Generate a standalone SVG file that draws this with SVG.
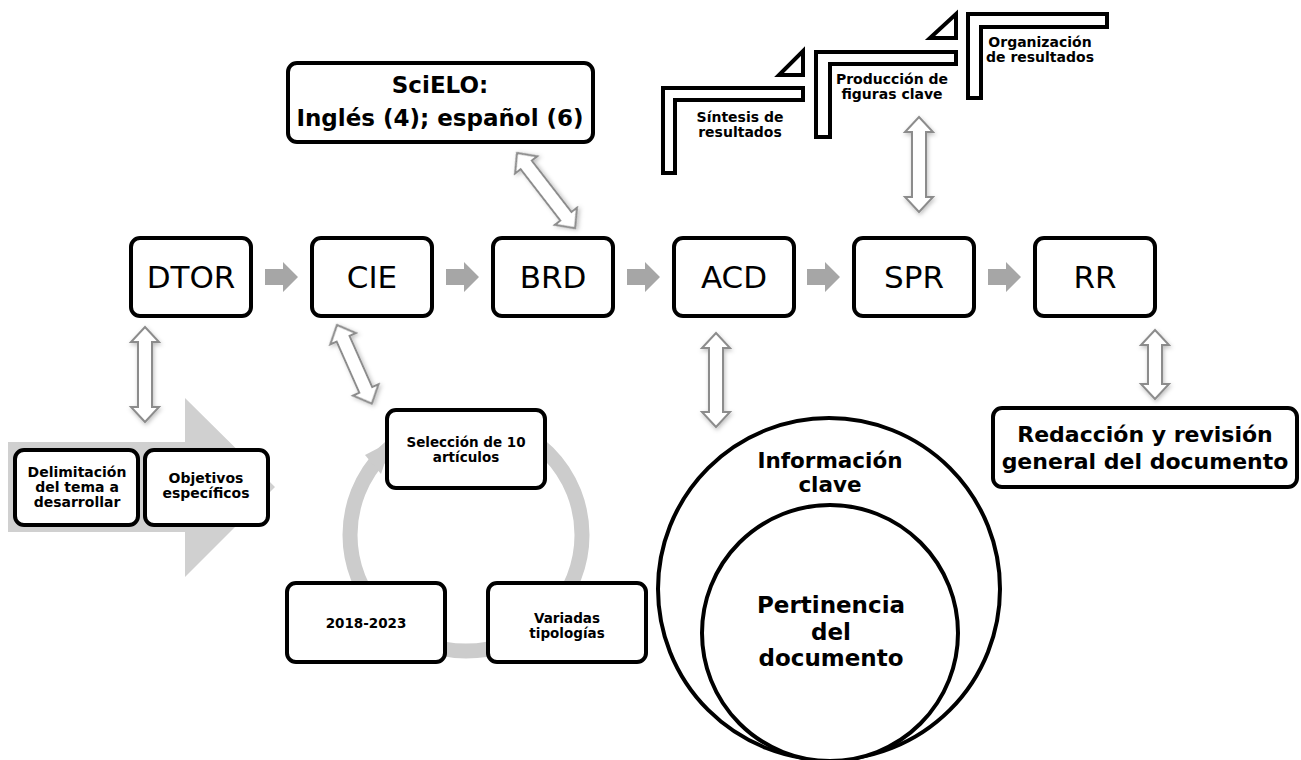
<svg xmlns="http://www.w3.org/2000/svg" width="1301" height="760" viewBox="0 0 1301 760">
<defs>
<style>
.box{fill:#fff;stroke:#000;stroke-width:4}
.main{font-family:"DejaVu Sans",Verdana,sans-serif;font-size:31px;fill:#000;text-anchor:middle}
.b{font-family:"DejaVu Sans",Verdana,sans-serif;font-weight:bold;fill:#000;text-anchor:middle}
.chev{fill:#a6a6a6}
.dbl{fill:#fff;stroke:#8c8c8c;stroke-width:2;stroke-linejoin:miter;filter:url(#sh)}
.ring{fill:none;stroke:#cccccc;stroke-width:15}
</style>
<filter id="sh" x="-50%" y="-50%" width="200%" height="200%">
<feDropShadow dx="1" dy="2" stdDeviation="2" flood-color="#000" flood-opacity="0.25"/>
</filter>
</defs>
<rect width="1301" height="760" fill="#fff"/>

<!-- big left gray arrow -->
<g id="bg-arrow">
<polygon points="8,442 185,442 185,398 275,487 185,577 185,532 8,532" fill="#d0d0d0"/>
</g>

<!-- cycle ring -->
<g id="cycle-ring">
<circle cx="466" cy="535" r="116" class="ring"/>
<polygon points="365,455 392,441 381,474" fill="#cccccc"/>
</g>

<g id="connectors">
<polygon class="chev" points="265,269 283,269 283,262 298,277 283,292 283,285 265,285"/>
<polygon class="chev" points="446,269 464,269 464,262 479,277 464,292 464,285 446,285"/>
<polygon class="chev" points="627,269 645,269 645,262 660,277 645,292 645,285 627,285"/>
<polygon class="chev" points="807,269 825,269 825,262 840,277 825,292 825,285 807,285"/>
<polygon class="chev" points="988,269 1006,269 1006,262 1021,277 1006,292 1006,285 988,285"/>
<!-- double arrows -->
<path class="dbl" transform="translate(145,327)" d="M0,0 L14,15 L7,15 L7,80 L14,80 L0,95 L-14,80 L-7,80 L-7,15 L-14,15 Z"/>
<path class="dbl" transform="translate(337,325) rotate(-23.9)" d="M0,0 L14,15 L7,15 L7,71 L14,71 L0,86 L-14,71 L-7,71 L-7,15 L-14,15 Z"/>
<path class="dbl" transform="translate(517,153) rotate(-37.7)" d="M0,0 L14,15 L7,15 L7,80 L14,80 L0,95 L-14,80 L-7,80 L-7,15 L-14,15 Z"/>
<path class="dbl" transform="translate(716,333)" d="M0,0 L14,15 L7,15 L7,79 L14,79 L0,94 L-14,79 L-7,79 L-7,15 L-14,15 Z"/>
<path class="dbl" transform="translate(919,117)" d="M0,0 L14,15 L7,15 L7,80 L14,80 L0,95 L-14,80 L-7,80 L-7,15 L-14,15 Z"/>
<path class="dbl" transform="translate(1155,330)" d="M0,0 L14,15 L7,15 L7,54 L14,54 L0,69 L-14,54 L-7,54 L-7,15 L-14,15 Z"/>
</g>

<g id="DTOR"><rect class="box" x="131" y="238" width="120" height="78" rx="9"/><text class="main" x="191" y="288">DTOR</text></g>
<g id="CIE"><rect class="box" x="312" y="238" width="120" height="78" rx="9"/><text class="main" x="372" y="288">CIE</text></g>
<g id="BRD"><rect class="box" x="493" y="238" width="120" height="78" rx="9"/><text class="main" x="553" y="288">BRD</text></g>
<g id="ACD"><rect class="box" x="674" y="238" width="120" height="78" rx="9"/><text class="main" x="734" y="288">ACD</text></g>
<g id="SPR"><rect class="box" x="854" y="238" width="120" height="78" rx="9"/><text class="main" x="914" y="288">SPR</text></g>
<g id="RR"><rect class="box" x="1035" y="238" width="120" height="78" rx="9"/><text class="main" x="1095" y="288">RR</text></g>

<g id="scielo"><rect class="box" x="288" y="63" width="305" height="79" rx="9"/>
<text class="b" x="440" y="93" font-size="23">SciELO:</text>
<text class="b" x="440" y="126" font-size="23">Inglés (4); español (6)</text></g>

<g id="delimitacion"><rect class="box" x="15" y="450" width="123" height="75" rx="9"/>
<text class="b" x="77" y="477" font-size="14">Delimitación</text>
<text class="b" x="77" y="492" font-size="14">del tema a</text>
<text class="b" x="77" y="507" font-size="14">desarrollar</text></g>
<g id="objetivos"><rect class="box" x="145" y="450" width="123" height="75" rx="9"/>
<text class="b" x="206" y="483" font-size="14">Objetivos</text>
<text class="b" x="206" y="498" font-size="14">específicos</text></g>

<g id="seleccion"><rect class="box" x="387" y="410" width="158" height="78" rx="9"/>
<text class="b" x="466" y="447" font-size="13.5">Selección de 10</text>
<text class="b" x="466" y="462" font-size="13.5">artículos</text></g>
<g id="anios"><rect class="box" x="287" y="583" width="158" height="79" rx="9"/>
<text class="b" x="366" y="628" font-size="13.5">2018-2023</text></g>
<g id="variadas"><rect class="box" x="488" y="583" width="158" height="79" rx="9"/>
<text class="b" x="567" y="623" font-size="13.5">Variadas</text>
<text class="b" x="567" y="638" font-size="13.5">tipologías</text></g>

<g id="informacion"><circle cx="829" cy="589" r="171" fill="#fff" stroke="#000" stroke-width="4"/>
<text class="b" x="830" y="468" font-size="21.5">Información</text>
<text class="b" x="830" y="492" font-size="21.5">clave</text></g>
<g id="pertinencia"><circle cx="830" cy="633" r="128" fill="#fff" stroke="#000" stroke-width="4"/>
<text class="b" x="831" y="613" font-size="23">Pertinencia</text>
<text class="b" x="831" y="640" font-size="23">del</text>
<text class="b" x="831" y="666" font-size="23">documento</text></g>

<g id="redaccion"><rect class="box" x="993" y="408" width="304" height="79" rx="9"/>
<text class="b" x="1145" y="442" font-size="22">Redacción y revisión</text>
<text class="b" x="1145" y="469" font-size="22">general del documento</text></g>

<g id="sintesis">
<polygon points="663,88 803,88 803,100 675,100 675,173 663,173" fill="#fff" stroke="#000" stroke-width="4"/>
<polygon points="803,51 803,75 779,75" fill="#fff" stroke="#000" stroke-width="4"/>
<text class="b" x="740" y="122" font-size="14">Síntesis de</text>
<text class="b" x="740" y="137" font-size="14">resultados</text></g>
<g id="produccion">
<polygon points="816,52 956,52 956,64 830,64 830,137 816,137" fill="#fff" stroke="#000" stroke-width="4"/>
<polygon points="956,14 956,38 930,38" fill="#fff" stroke="#000" stroke-width="4"/>
<text class="b" x="892" y="84" font-size="14">Producción de</text>
<text class="b" x="892" y="99" font-size="14">figuras clave</text></g>
<g id="organizacion">
<polygon points="968,14 1107,14 1107,27 981,27 981,98 968,98" fill="#fff" stroke="#000" stroke-width="4"/>
<text class="b" x="1040" y="47" font-size="14">Organización</text>
<text class="b" x="1040" y="62" font-size="14">de resultados</text></g>
</svg>
